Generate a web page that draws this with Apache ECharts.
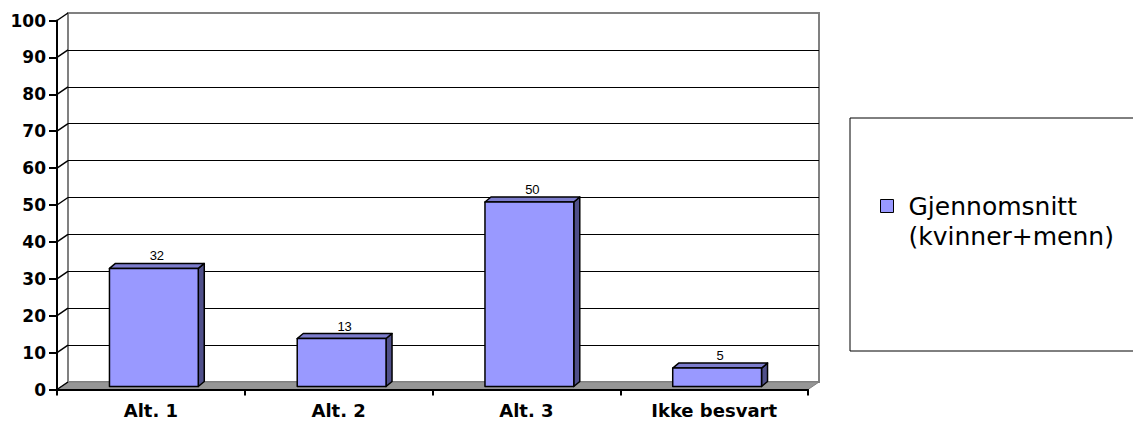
<!DOCTYPE html>
<html>
<head>
<meta charset="utf-8">
<script src="https://cdn.jsdelivr.net/npm/echarts@6/dist/echarts.min.js"></script>
<style>
html,body{margin:0;padding:0;background:#fff;}
#chart{width:1133px;height:425px;}
</style>
</head>
<body>
<div id="chart"></div>
<script>
// ---- data ----
const categories = ['Alt. 1', 'Alt. 2', 'Alt. 3', 'Ikke besvart'];
const values = [32, 13, 50, 5];
const yTicks = [0, 10, 20, 30, 40, 50, 60, 70, 80, 90, 100];
const seriesName = 'Gjennomsnitt\n(kvinner+menn)';

// ---- layout / style constants ----
const WALL_DX = 11, WALL_DY = -7.5;   // depth offset of back wall
const BAR_SHIFT_X = 3, BAR_SHIFT_Y = -3; // bar front plane
const BAR_DX = 6, BAR_DY = -5;         // bar depth
const BAR_RATIO = 0.473;
const FRONT = '#9999FF', TOP = '#7c7ccc', SIDE = '#50508a';

const chart = echarts.init(document.getElementById('chart'), null, {renderer: 'svg'});

const splitColors = yTicks.map((v, i) => i === yTicks.length - 1 ? '#808080' : '#000000');

const option = {
  animation: false,
  backgroundColor: '#ffffff',
  legend: {
    data: [seriesName],
    orient: 'vertical',
    left: 850,
    top: 118,
    padding: [43, 20, 100, 30],
    borderColor: '#000',
    borderWidth: 1,
    itemWidth: 13,
    itemHeight: 13,
    icon: 'rect',
    itemStyle: {color: FRONT, borderColor: '#000', borderWidth: 1},
    formatter: function (name) { return '\n' + name; },
    textStyle: {
      fontFamily: 'DejaVu Sans',
      fontSize: 25,
      lineHeight: 30,
      color: '#000',
      padding: [0, 0, 0, 10]
    },
    selectedMode: false
  },
  grid: [
    {left: 68, right: 314, top: 13, bottom: 43, show: true, borderColor: '#808080', borderWidth: 2, backgroundColor: '#fff'},
    {left: 57, right: 325, top: 20.5, bottom: 35.5}
  ],
  xAxis: [
    {gridIndex: 0, type: 'category', data: categories, show: false},
    {
      gridIndex: 1, type: 'category', data: categories,
      axisLine: {show: true, lineStyle: {color: '#000', width: 2}},
      axisTick: {show: true, length: 6, lineStyle: {color: '#000', width: 2}},
      axisLabel: {margin: 12, fontFamily: 'DejaVu Sans', fontWeight: 'bold', fontSize: 18, color: '#000'},
      z: 5
    }
  ],
  yAxis: [
    {
      gridIndex: 0, type: 'value', min: 0, max: 100, interval: 10,
      axisLine: {show: false}, axisTick: {show: false}, axisLabel: {show: false},
      splitLine: {show: true, lineStyle: {color: splitColors, width: 1}}
    },
    {
      gridIndex: 1, type: 'value', min: 0, max: 100, interval: 10,
      axisLine: {show: true, lineStyle: {color: '#000', width: 2}},
      axisTick: {show: true, length: 8, lineStyle: {color: '#000', width: 2}},
      axisLabel: {margin: 11, fontFamily: 'DejaVu Sans', fontWeight: 'bold', fontSize: 17, color: '#000'},
      splitLine: {show: false},
      z: 5
    }
  ],
  series: [
    {
      // side-wall diagonals and floor
      type: 'custom',
      name: 'walls',
      xAxisIndex: 1, yAxisIndex: 1,
      silent: true,
      z: 1,
      data: yTicks.map(v => [0, v]),
      renderItem: function (params, api) {
        const v = api.value(1);
        const p = api.coord([0, v]);
        const band = api.size([1, 0])[0];
        const x0 = p[0] - band / 2;
        const children = [{
          type: 'line',
          shape: {x1: x0, y1: p[1], x2: x0 + WALL_DX, y2: p[1] + WALL_DY},
          style: {stroke: '#000', lineWidth: 1.5}
        }];
        if (params.dataIndex === 0) {
          const pe = api.coord([categories.length - 1, 0]);
          const x1 = pe[0] + band / 2;
          children.unshift({
            type: 'polygon',
            shape: {points: [[x0, p[1]], [x1, p[1]], [x1 + WALL_DX, p[1] + WALL_DY], [x0 + WALL_DX, p[1] + WALL_DY]]},
            style: {fill: '#969696', stroke: '#808080', lineWidth: 1}
          });
        }
        return {type: 'group', children: children};
      }
    },
    {
      type: 'custom',
      name: seriesName,
      xAxisIndex: 1, yAxisIndex: 1,
      z: 3,
      itemStyle: {color: FRONT},
      data: values.map((v, i) => [i, v]),
      renderItem: function (params, api) {
        const i = api.value(0), v = api.value(1);
        const base = api.coord([i, 0]);
        const top = api.coord([i, v]);
        const band = api.size([1, 0])[0];
        const w = band * BAR_RATIO;
        const fx0 = base[0] - w / 2 + BAR_SHIFT_X;
        const fx1 = fx0 + w;
        const fyB = base[1] + BAR_SHIFT_Y;
        const fyT = top[1] + BAR_SHIFT_Y;
        const stroke = {stroke: '#000', lineWidth: 1.5, lineJoin: 'round'};
        return {
          type: 'group',
          children: [
            {type: 'polygon', shape: {points: [[fx1, fyT], [fx1 + BAR_DX, fyT + BAR_DY], [fx1 + BAR_DX, fyB + BAR_DY], [fx1, fyB]]},
              style: Object.assign({fill: SIDE}, stroke)},
            {type: 'polygon', shape: {points: [[fx0, fyT], [fx1, fyT], [fx1 + BAR_DX, fyT + BAR_DY], [fx0 + BAR_DX, fyT + BAR_DY]]},
              style: Object.assign({fill: TOP}, stroke)},
            {type: 'rect', shape: {x: fx0, y: fyT, width: w, height: fyB - fyT},
              style: Object.assign({fill: FRONT}, stroke)},
            {type: 'text', x: (fx0 + fx1 + BAR_DX) / 2, y: fyT + BAR_DY - 1,
              style: {text: String(v), fill: '#000', fontFamily: 'Liberation Sans', fontSize: 13, align: 'center', verticalAlign: 'bottom'}}
          ]
        };
      }
    }
  ]
};
chart.setOption(option);
</script>
</body>
</html>
